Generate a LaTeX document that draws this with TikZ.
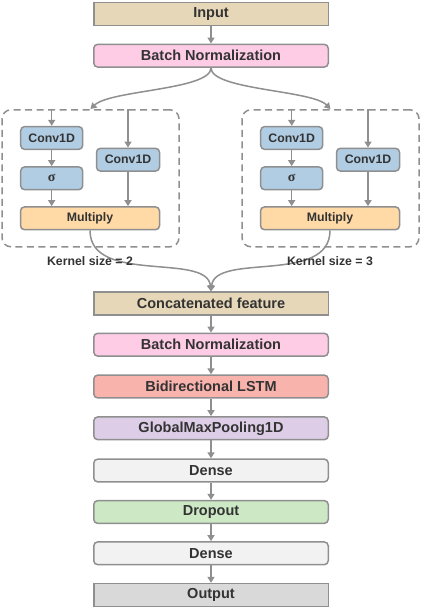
\documentclass[tikz,border=0pt]{standalone}
\usepackage{fontspec}
\setmainfont{Liberation Sans}
\newfontfamily\sigmafont{Liberation Serif}
\usetikzlibrary{arrows.meta}
\definecolor{tanc}{HTML}{E6D7B9}
\definecolor{pinkc}{HTML}{FFCCE6}
\definecolor{bluec}{HTML}{B1CDE3}
\definecolor{orangec}{HTML}{FFD9A6}
\definecolor{salmonc}{HTML}{F8B3AC}
\definecolor{lavc}{HTML}{DDCDE6}
\definecolor{densec}{HTML}{F2F2F2}
\definecolor{greenc}{HTML}{CCE8C4}
\definecolor{outc}{HTML}{D9D9D9}
\definecolor{bordc}{HTML}{8F8F8F}
\definecolor{txtc}{HTML}{333333}
\definecolor{arrc}{HTML}{8F8F8F}
\begin{document}
\begin{tikzpicture}[x=1pt,y=-1pt,
  box/.style={draw=bordc, line width=1.5pt, minimum width=234.5pt, minimum height=22.8pt, inner sep=0pt, font=\fontsize{14.5}{16}\selectfont\bfseries, text=txtc},
  rbox/.style={box, rounded corners=4pt},
  sbox/.style={draw=bordc, line width=1.5pt, rounded corners=4pt, minimum height=22.8pt, inner sep=0pt, font=\fontsize{12.3}{14}\selectfont\bfseries, text=txtc},
  grp/.style={draw=bordc, line width=1.5pt, dash pattern=on 7pt off 4.5pt, rounded corners=9pt, minimum width=177pt, minimum height=137pt, inner sep=0pt},
  lab/.style={font=\fontsize{12.3}{14}\selectfont\bfseries, text=txtc, inner sep=0pt},
  arr/.style={draw=arrc, line width=1.5pt, -{Triangle[length=6pt,width=7pt]}}
]
\useasboundingbox (0,0) rectangle (420,612);

% main column top
\node[box, fill=tanc] (in) at (211,14) {Input};
\node[rbox, fill=pinkc] (bn1) at (211,55.7) {Batch Normalization};

% groups
\node[grp] (g1) at (90.5,178.3) {};
\node[grp] (g2) at (330.5,178.3) {};

% left group
\node[sbox, fill=bluec, minimum width=62pt] (c1a) at (51.7,138) {Conv1D};
\node[sbox, fill=bluec, minimum width=62pt, font=\fontsize{14}{16}\selectfont\sigmafont\bfseries] (s1) at (51.7,178.3) {σ};
\node[sbox, fill=bluec, minimum width=63pt] (c1b) at (128,159.7) {Conv1D};
\node[sbox, fill=orangec, minimum width=139pt] (m1) at (90,218.3) {Multiply};

% right group
\node[sbox, fill=bluec, minimum width=62pt] (c2a) at (291.7,138) {Conv1D};
\node[sbox, fill=bluec, minimum width=62pt, font=\fontsize{14}{16}\selectfont\sigmafont\bfseries] (s2) at (291.7,178.3) {σ};
\node[sbox, fill=bluec, minimum width=63pt] (c2b) at (368,159.7) {Conv1D};
\node[sbox, fill=orangec, minimum width=139pt] (m2) at (330,218.3) {Multiply};

% bottom column
\node[box, fill=tanc] (cf) at (211,303.5) {Concatenated feature};
\node[rbox, fill=pinkc] (bn2) at (211,344.7) {Batch Normalization};
\node[rbox, fill=salmonc] (ls) at (211,386.5) {Bidirectional LSTM};
\node[rbox, fill=lavc] (gm) at (211,428.3) {GlobalMaxPooling1D};
\node[rbox, fill=densec] (d1) at (211,470.5) {Dense};
\node[rbox, fill=greenc] (dr) at (211,512) {Dropout};
\node[rbox, fill=densec] (d2) at (211,553.3) {Dense};
\node[box, fill=outc] (out) at (211,595) {Output};

% connectors top
\draw[arr] (in) -- (bn1);
\draw[arr] (bn1.south) .. controls (211,90) and (110,90) .. (g1.north);
\draw[arr] (bn1.south) .. controls (211,90) and (312,90) .. (g2.north);

% inside groups
\draw[arr] (g1.north -| c1a.north) -- (c1a.north);
\draw[arr] (c1a) -- (s1);
\draw[arr] (s1.south) -- (m1.north -| s1.south);
\draw[arr] (g1.north -| c1b.north) -- (c1b.north);
\draw[arr] (c1b.south) -- (m1.north -| c1b.south);

\draw[arr] (g2.north -| c2a.north) -- (c2a.north);
\draw[arr] (c2a) -- (s2);
\draw[arr] (s2.south) -- (m2.north -| s2.south);
\draw[arr] (g2.north -| c2b.north) -- (c2b.north);
\draw[arr] (c2b.south) -- (m2.north -| c2b.south);

% curves to concatenated
\draw[arr] (m1.south) .. controls (90,285) and (207,252) .. (cf.north);
\draw[arr] (m2.south) .. controls (330,285) and (215,252) .. (cf.north);

% labels
\node[lab] (k1) at (90,261.5) {Kernel size = 2};
\node[lab] (k2) at (330,261.5) {Kernel size = 3};

% bottom chain
\draw[arr] (cf) -- (bn2);
\draw[arr] (bn2) -- (ls);
\draw[arr] (ls) -- (gm);
\draw[arr] (gm) -- (d1);
\draw[arr] (d1) -- (dr);
\draw[arr] (dr) -- (d2);
\draw[arr] (d2) -- (out);
\end{tikzpicture}
\end{document}
